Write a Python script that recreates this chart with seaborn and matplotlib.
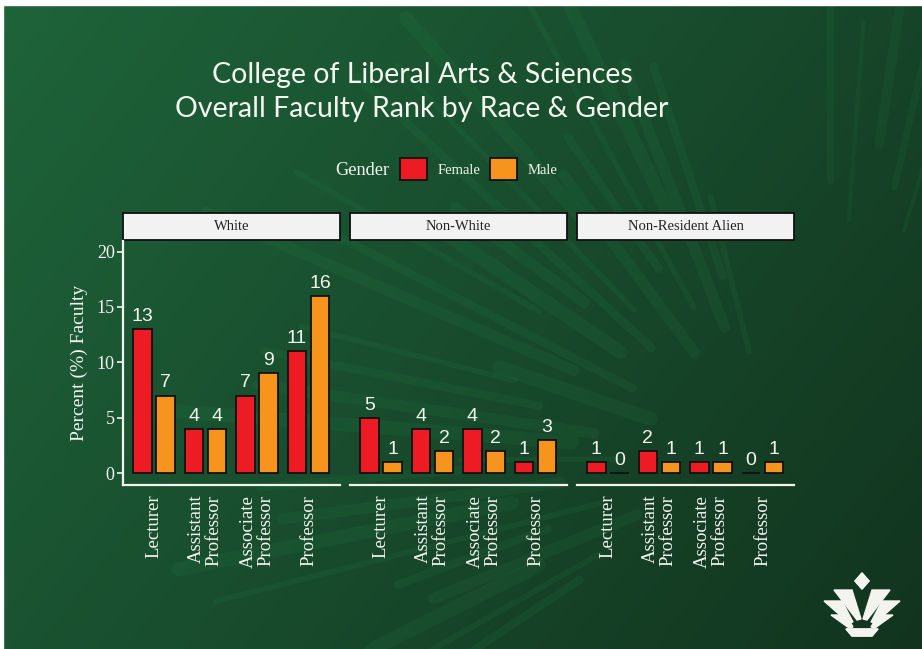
import numpy as np
import pandas as pd
import matplotlib
matplotlib.use("Agg")
import matplotlib.pyplot as plt
from matplotlib.patches import Rectangle, Patch, Polygon
import seaborn as sns

# ---------------- data ----------------
races = ["White", "Non-White", "Non-Resident Alien"]
ranks = ["Lecturer", "Assistant\nProfessor", "Associate\nProfessor", "Professor"]
genders = ["Female", "Male"]
female_white = [13, 4, 7, 11]
male_white = [7, 4, 9, 16]
female_nonwhite = [5, 4, 4, 1]
male_nonwhite = [1, 2, 2, 3]
female_nra = [1, 2, 1, 0]
male_nra = [0, 1, 1, 1]
y_ticks = [0, 5, 10, 15, 20]

values = {
    "White": (female_white, male_white),
    "Non-White": (female_nonwhite, male_nonwhite),
    "Non-Resident Alien": (female_nra, male_nra),
}
rows = []
for race in races:
    f, m = values[race]
    for i, rk in enumerate(ranks):
        rows.append((race, rk, "Female", f[i]))
        rows.append((race, rk, "Male", m[i]))
df = pd.DataFrame(rows, columns=["Race", "Rank", "Gender", "Percent"])

palette = {"Female": "#ED1C24", "Male": "#F7941D"}
W, H = 922, 649
fig = plt.figure(figsize=(W / 100, H / 100), dpi=100)

def fx(px):
    return px / W

def fy(py):
    return 1 - py / H

# ---------------- background ----------------
bg = fig.add_axes([0, 0, 1, 1], zorder=-5)
bg.set_xlim(0, W)
bg.set_ylim(H, 0)
bg.axis("off")
xx, yy = np.meshgrid(np.linspace(0, 1, 200), np.linspace(0, 1, 150))
t = np.clip(0.65 * xx + 0.35 * yy, 0, 1)
c0 = np.array([30, 100, 58]) / 255
c1 = np.array([18, 52, 31]) / 255
img = c0[None, None, :] * (1 - t[..., None]) + c1[None, None, :] * t[..., None]
bg.imshow(img, extent=[0, W, H, 0], aspect="auto", interpolation="bilinear")
cx, cy = 770, 470
angles = np.deg2rad(np.linspace(100, 210, 30))
r_in = [120, 200, 150, 260, 180, 230, 140, 300, 210, 170, 250, 190, 280, 160,
        220, 130, 270, 240, 180, 200, 150, 290, 210, 260, 170, 230, 140, 250,
        190, 220]
for k, a in enumerate(angles):
    r0 = r_in[k]
    r1 = r0 + 160 + (k % 5) * 60
    xs = [cx + r0 * np.cos(a), cx + r1 * np.cos(a + 0.04)]
    ys = [cy - r0 * np.sin(a), cy - r1 * np.sin(a + 0.04)]
    bg.plot(xs, ys, color="#2a9a52", alpha=0.10, lw=4 + (k % 4) * 2,
            solid_capstyle="round")
for k, a in enumerate(np.deg2rad(np.linspace(60, 90, 8))):
    r0 = 250 + (k % 3) * 40
    xs = [cx + 60 + r0 * np.cos(a), cx + 60 + (r0 + 200) * np.cos(a)]
    ys = [cy - r0 * np.sin(a), cy - (r0 + 200) * np.sin(a)]
    bg.plot(xs, ys, color="#2a9a52", alpha=0.09, lw=3 + (k % 3) * 2,
            solid_capstyle="round")
# white margins
bg.add_patch(Rectangle((0, 0), W, 5, color="white", zorder=5))
bg.add_patch(Rectangle((0, 0), 3, H, color="white", zorder=5))

# logo (bottom right)
logo_left = [
    [(862, 573), (869, 581), (862, 589), (855, 581)],
    [(834, 590), (852, 590), (861, 619), (857, 620)],
    [(824, 601), (842, 601), (853, 622), (849, 623)],
    [(831, 615), (846, 615), (853, 627), (849, 628)],
    [(846, 629), (878, 629), (872, 636), (852, 636)],
]
for poly in logo_left:
    bg.add_patch(Polygon(poly, closed=True, color="#f4f4ef", zorder=6))
    mirrored = [(2 * 862 - x, y) for x, y in poly]
    bg.add_patch(Polygon(mirrored, closed=True, color="#f4f4ef", zorder=6))

# ---------------- panels ----------------
serif = ["Liberation Serif", "DejaVu Serif"]
sans = ["Liberation Sans", "DejaVu Sans"]
white = "#f5f5f0"
ax_left0 = 123
ax_w = 217
ax_gap = 10
ax_top, ax_bot = 241, 485

axes = []
for i, race in enumerate(races):
    left = ax_left0 + i * (ax_w + ax_gap)
    ax = fig.add_axes([fx(left), fy(ax_bot), ax_w / W, (ax_bot - ax_top) / H])
    ax.patch.set_alpha(0)
    sub = df[df["Race"] == race]
    sns.barplot(data=sub, x="Rank", y="Percent", hue="Gender", order=ranks,
                hue_order=genders, palette=palette, saturation=1, width=0.9,
                gap=0.2, edgecolor="#111111", linewidth=1.3, legend=False,
                ax=ax, errorbar=None)
    for cont in ax.containers:
        ax.bar_label(cont, padding=3, color=white, fontsize=14, family=sans)
    ax.set_xlim(-0.6, 3.61)
    ax.set_ylim(-1.08, 20.96)
    ax.set_xlabel("")
    for s in ["top", "right"]:
        ax.spines[s].set_visible(False)
    ax.spines["bottom"].set_color(white)
    ax.spines["bottom"].set_linewidth(1.6)
    ax.spines["left"].set_color(white)
    ax.spines["left"].set_linewidth(1.6)
    ax.set_xticks(range(len(ranks)))
    ax.set_xticklabels(ranks, rotation=90, va="top", ha="center",
                       multialignment="right", linespacing=1.05,
                       family=serif, fontsize=13.5, color=white)
    ax.tick_params(axis="x", length=0, pad=7)
    if i == 0:
        ax.set_yticks(y_ticks)
        ax.set_yticklabels([str(v) for v in y_ticks], family=serif,
                           fontsize=13, color=white)
        ax.tick_params(axis="y", colors=white, length=4, width=1.2, pad=2)
        ax.set_ylabel("Percent (%) Faculty", family=serif, fontsize=14,
                      color=white, labelpad=6)
    else:
        ax.spines["left"].set_visible(False)
        ax.set_yticks([])
        ax.set_ylabel("")
    # facet strip
    sh = ax_bot - ax_top
    ax.add_patch(Rectangle((0, 1 + 1 / sh), 1, 27 / sh, transform=ax.transAxes,
                           facecolor="#f2f2f2", edgecolor="#111111", lw=1.3,
                           clip_on=False))
    ax.text(0.5, 1 + 14.5 / sh, race, transform=ax.transAxes, ha="center",
            va="center", family=serif, fontsize=10.5, color="#222222")
    axes.append(ax)

# ---------------- title ----------------
title_font = ["Lato", "DejaVu Sans"]
fig.text(fx(422), fy(83), "College of Liberal Arts & Sciences", ha="center",
         va="baseline", fontsize=20.5, color=white, family=title_font)
fig.text(fx(422), fy(117), "Overall Faculty Rank by Race & Gender",
         ha="center", va="baseline", fontsize=20.5, color=white,
         family=title_font)

# ---------------- legend ----------------
fig.text(fx(335), fy(175), "Gender", ha="left", va="baseline", family=serif,
         fontsize=13.2, color=white)
handles = [Patch(facecolor=palette[g], edgecolor="#111111", lw=1.3)
           for g in genders]
leg = fig.legend(handles, genders, loc="center left",
                 bbox_to_anchor=(fx(400), fy(169)), ncol=2, frameon=False,
                 borderpad=0, borderaxespad=0, handlelength=1.85,
                 handleheight=1.9, handletextpad=0.7, columnspacing=0.7,
                 prop={"family": serif, "size": 10.5})
for txt in leg.get_texts():
    txt.set_color(white)

fig.savefig("out.png", dpi=100)
